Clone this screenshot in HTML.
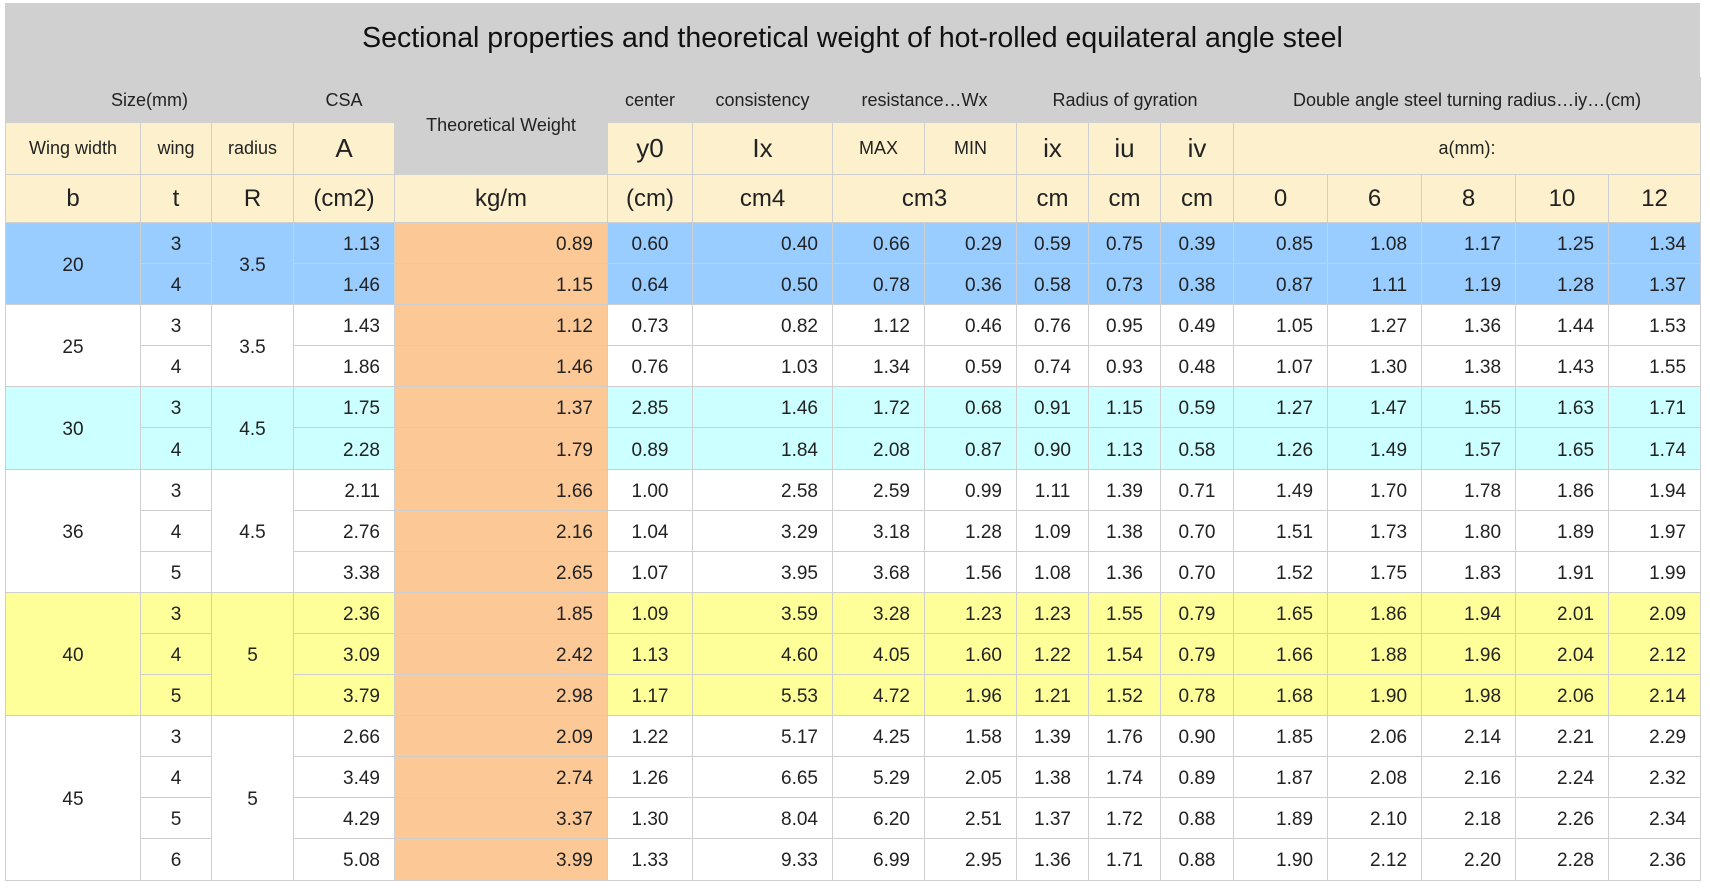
<!DOCTYPE html>
<html><head><style>
body{margin:0;width:1710px;height:894px;background:#fff;font-family:"Liberation Sans",sans-serif;position:relative;overflow:hidden}
#gray{position:absolute;left:5px;top:3px;width:1695px;height:76px;background:#d0d0d0}
#title{position:absolute;left:5px;top:22px;width:1695px;text-align:center;font-size:28.5px;color:#111}
table{position:absolute;left:5px;top:77px;border-collapse:collapse;table-layout:fixed;width:1695px}
td{border:1.5px solid #cfcfcf;padding:0;color:#222;font-size:19px;text-align:center;white-space:nowrap;overflow:hidden}
tr.h1 td{background:#d0d0d0;height:44px;font-size:18px;border-color:#d0d0d0}
tr.h2 td{background:#fdf0cc;height:51px;font-size:18px}
tr.h2 td.big{font-size:26px}
tr.h3 td{background:#fdf0cc;height:47px;font-size:24px}
tr.d td{height:36.1px;padding-top:4px}
td.r{text-align:right;padding-right:14px}
td.w{background:#fcc896!important;text-align:right;padding-right:14px}
.B td{background:#99ccff}.C td{background:#ccffff}.Y td{background:#ffff99}.W td{background:#fff}
</style></head><body>
<div id="gray"></div>
<div id="title">Sectional properties and theoretical weight of hot-rolled equilateral angle steel</div>
<table>
<colgroup><col style="width:135px"><col style="width:71px"><col style="width:82px"><col style="width:101px"><col style="width:213px"><col style="width:85px"><col style="width:140px"><col style="width:92px"><col style="width:92px"><col style="width:72px"><col style="width:72px"><col style="width:73px"><col style="width:94px"><col style="width:94px"><col style="width:94px"><col style="width:93px"><col style="width:92px"></colgroup>
<tr class="h1"><td colspan="3">Size(mm)</td><td>CSA</td><td rowspan="2" style="vertical-align:top;padding-top:37px">Theoretical Weight</td><td>center</td><td>consistency</td><td colspan="2">resistance…Wx</td><td colspan="3">Radius of gyration</td><td colspan="5">Double angle steel turning radius…iy…(cm)</td></tr>
<tr class="h2"><td>Wing width</td><td>wing</td><td>radius</td><td class="big">A</td><td class="big">y0</td><td class="big">Ix</td><td>MAX</td><td>MIN</td><td class="big">ix</td><td class="big">iu</td><td class="big">iv</td><td colspan="5">a(mm):</td></tr>
<tr class="h3"><td>b</td><td>t</td><td>R</td><td>(cm2)</td><td style="background:#fdf0cc">kg/m</td><td>(cm)</td><td>cm4</td><td colspan="2">cm3</td><td>cm</td><td>cm</td><td>cm</td><td>0</td><td>6</td><td>8</td><td>10</td><td>12</td></tr>

<tr class="d B"><td rowspan="2">20</td><td>3</td><td rowspan="2">3.5</td><td class="r">1.13</td><td class="w">0.89</td><td>0.60</td><td class="r">0.40</td><td class="r">0.66</td><td class="r">0.29</td><td>0.59</td><td>0.75</td><td>0.39</td><td class="r">0.85</td><td class="r">1.08</td><td class="r">1.17</td><td class="r">1.25</td><td class="r">1.34</td></tr>
<tr class="d B"><td>4</td><td class="r">1.46</td><td class="w">1.15</td><td>0.64</td><td class="r">0.50</td><td class="r">0.78</td><td class="r">0.36</td><td>0.58</td><td>0.73</td><td>0.38</td><td class="r">0.87</td><td class="r">1.11</td><td class="r">1.19</td><td class="r">1.28</td><td class="r">1.37</td></tr>

<tr class="d W"><td rowspan="2">25</td><td>3</td><td rowspan="2">3.5</td><td class="r">1.43</td><td class="w">1.12</td><td>0.73</td><td class="r">0.82</td><td class="r">1.12</td><td class="r">0.46</td><td>0.76</td><td>0.95</td><td>0.49</td><td class="r">1.05</td><td class="r">1.27</td><td class="r">1.36</td><td class="r">1.44</td><td class="r">1.53</td></tr>
<tr class="d W"><td>4</td><td class="r">1.86</td><td class="w">1.46</td><td>0.76</td><td class="r">1.03</td><td class="r">1.34</td><td class="r">0.59</td><td>0.74</td><td>0.93</td><td>0.48</td><td class="r">1.07</td><td class="r">1.30</td><td class="r">1.38</td><td class="r">1.43</td><td class="r">1.55</td></tr>

<tr class="d C"><td rowspan="2">30</td><td>3</td><td rowspan="2">4.5</td><td class="r">1.75</td><td class="w">1.37</td><td>2.85</td><td class="r">1.46</td><td class="r">1.72</td><td class="r">0.68</td><td>0.91</td><td>1.15</td><td>0.59</td><td class="r">1.27</td><td class="r">1.47</td><td class="r">1.55</td><td class="r">1.63</td><td class="r">1.71</td></tr>
<tr class="d C"><td>4</td><td class="r">2.28</td><td class="w">1.79</td><td>0.89</td><td class="r">1.84</td><td class="r">2.08</td><td class="r">0.87</td><td>0.90</td><td>1.13</td><td>0.58</td><td class="r">1.26</td><td class="r">1.49</td><td class="r">1.57</td><td class="r">1.65</td><td class="r">1.74</td></tr>

<tr class="d W"><td rowspan="3">36</td><td>3</td><td rowspan="3">4.5</td><td class="r">2.11</td><td class="w">1.66</td><td>1.00</td><td class="r">2.58</td><td class="r">2.59</td><td class="r">0.99</td><td>1.11</td><td>1.39</td><td>0.71</td><td class="r">1.49</td><td class="r">1.70</td><td class="r">1.78</td><td class="r">1.86</td><td class="r">1.94</td></tr>
<tr class="d W"><td>4</td><td class="r">2.76</td><td class="w">2.16</td><td>1.04</td><td class="r">3.29</td><td class="r">3.18</td><td class="r">1.28</td><td>1.09</td><td>1.38</td><td>0.70</td><td class="r">1.51</td><td class="r">1.73</td><td class="r">1.80</td><td class="r">1.89</td><td class="r">1.97</td></tr>
<tr class="d W"><td>5</td><td class="r">3.38</td><td class="w">2.65</td><td>1.07</td><td class="r">3.95</td><td class="r">3.68</td><td class="r">1.56</td><td>1.08</td><td>1.36</td><td>0.70</td><td class="r">1.52</td><td class="r">1.75</td><td class="r">1.83</td><td class="r">1.91</td><td class="r">1.99</td></tr>

<tr class="d Y"><td rowspan="3">40</td><td>3</td><td rowspan="3">5</td><td class="r">2.36</td><td class="w">1.85</td><td>1.09</td><td class="r">3.59</td><td class="r">3.28</td><td class="r">1.23</td><td>1.23</td><td>1.55</td><td>0.79</td><td class="r">1.65</td><td class="r">1.86</td><td class="r">1.94</td><td class="r">2.01</td><td class="r">2.09</td></tr>
<tr class="d Y"><td>4</td><td class="r">3.09</td><td class="w">2.42</td><td>1.13</td><td class="r">4.60</td><td class="r">4.05</td><td class="r">1.60</td><td>1.22</td><td>1.54</td><td>0.79</td><td class="r">1.66</td><td class="r">1.88</td><td class="r">1.96</td><td class="r">2.04</td><td class="r">2.12</td></tr>
<tr class="d Y"><td>5</td><td class="r">3.79</td><td class="w">2.98</td><td>1.17</td><td class="r">5.53</td><td class="r">4.72</td><td class="r">1.96</td><td>1.21</td><td>1.52</td><td>0.78</td><td class="r">1.68</td><td class="r">1.90</td><td class="r">1.98</td><td class="r">2.06</td><td class="r">2.14</td></tr>

<tr class="d W"><td rowspan="4">45</td><td>3</td><td rowspan="4">5</td><td class="r">2.66</td><td class="w">2.09</td><td>1.22</td><td class="r">5.17</td><td class="r">4.25</td><td class="r">1.58</td><td>1.39</td><td>1.76</td><td>0.90</td><td class="r">1.85</td><td class="r">2.06</td><td class="r">2.14</td><td class="r">2.21</td><td class="r">2.29</td></tr>
<tr class="d W"><td>4</td><td class="r">3.49</td><td class="w">2.74</td><td>1.26</td><td class="r">6.65</td><td class="r">5.29</td><td class="r">2.05</td><td>1.38</td><td>1.74</td><td>0.89</td><td class="r">1.87</td><td class="r">2.08</td><td class="r">2.16</td><td class="r">2.24</td><td class="r">2.32</td></tr>
<tr class="d W"><td>5</td><td class="r">4.29</td><td class="w">3.37</td><td>1.30</td><td class="r">8.04</td><td class="r">6.20</td><td class="r">2.51</td><td>1.37</td><td>1.72</td><td>0.88</td><td class="r">1.89</td><td class="r">2.10</td><td class="r">2.18</td><td class="r">2.26</td><td class="r">2.34</td></tr>
<tr class="d W"><td>6</td><td class="r">5.08</td><td class="w">3.99</td><td>1.33</td><td class="r">9.33</td><td class="r">6.99</td><td class="r">2.95</td><td>1.36</td><td>1.71</td><td>0.88</td><td class="r">1.90</td><td class="r">2.12</td><td class="r">2.20</td><td class="r">2.28</td><td class="r">2.36</td></tr>
</table>
</body></html>
